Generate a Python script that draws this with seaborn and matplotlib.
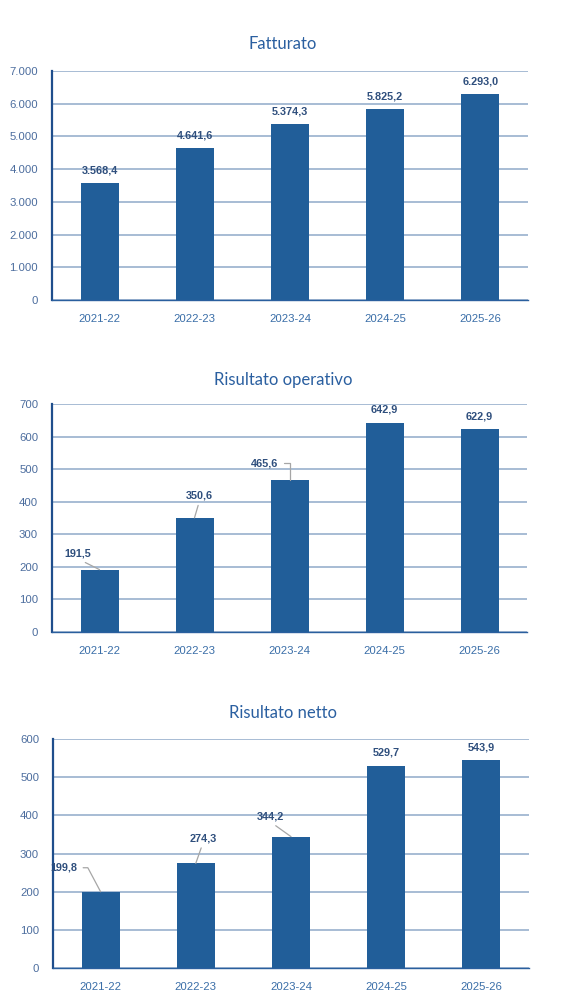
import numpy as np
import matplotlib
matplotlib.use("Agg")
import matplotlib.pyplot as plt
import seaborn as sns
from matplotlib.ticker import FuncFormatter, MultipleLocator

# Data
years = ["2021-22", "2022-23", "2023-24", "2024-25", "2025-26"]
fatturato = [3568.4, 4641.6, 5374.3, 5825.2, 6293.0]
risultato_operativo = [191.5, 350.6, 465.6, 642.9, 622.9]
risultato_netto = [199.8, 274.3, 344.2, 529.7, 543.9]

titles = ["Fatturato", "Risultato operativo", "Risultato netto"]
series = [fatturato, risultato_operativo, risultato_netto]
y_max = [7000, 700, 600]
y_step = [1000, 100, 100]

# label offsets in pixels (dx, dy, style) - None means straight above the bar
PX = 0.72
label_offsets = [
    [None, None, None, None, None],
    [(-22, 16, "line"), (5, 22, "line"), (-25, 17, "elbow"), None, None],
    [(-37, 24, "bent"), (7, 25, "line"), (-21, 20, "line"), None, None],
]

# axes boxes in pixels: left, right, top, bottom
boxes = [(52, 528, 71, 300), (52, 527, 404, 632), (53, 529, 739, 968)]
title_y = [44, 380, 713]

W, H = 579, 1006
BAR = "#215E99"
GRID = "#8FA9C9"
YTICK = "#4C6D9E"
XTICK = "#3A6EA8"
LABEL = "#2F4F7D"
TITLE = "#2A5FA0"

sns.set_theme(style="white")
plt.rcParams["font.family"] = ["Liberation Sans", "DejaVu Sans"]


def it_fmt(v, dec):
    s = f"{v:,.{dec}f}"
    return s.replace(",", "X").replace(".", ",").replace("X", ".")


fig = plt.figure(figsize=(W / 100, H / 100), dpi=100)

for k in range(3):
    l, r, t, b = boxes[k]
    ax = fig.add_axes([l / W, 1 - b / H, (r - l) / W, (b - t) / H])
    vals = series[k]
    sns.barplot(x=years, y=vals, color=BAR, width=0.4, saturation=1, linewidth=0, ax=ax)
    ax.set_xlim(-0.5, 4.5)
    ax.set_ylim(0, y_max[k])
    ax.yaxis.set_major_locator(MultipleLocator(y_step[k]))
    ax.yaxis.set_major_formatter(FuncFormatter(lambda v, p: it_fmt(v, 0)))
    ax.yaxis.grid(True, color=GRID, lw=1.1)
    ax.xaxis.grid(False)
    ax.set_axisbelow(True)
    for s in ["top", "right"]:
        ax.spines[s].set_visible(False)
    ax.spines["left"].set_color("#1F4E8C")
    ax.spines["left"].set_linewidth(1.6)
    ax.spines["bottom"].set_color("#2A5F9E")
    ax.spines["bottom"].set_linewidth(1.0)
    ax.set_xticks(np.arange(-0.5, 5, 1), minor=True)
    ax.tick_params(axis="x", which="major", length=0, pad=10, labelsize=8.2, labelcolor=XTICK)
    ax.tick_params(axis="x", which="minor", length=4, width=1, color="#2A5F9E", direction="out")
    ax.tick_params(axis="y", length=0, pad=10, labelsize=8.2, labelcolor=YTICK)
    ax.set_xlabel("")
    ax.set_ylabel("")

    for i, v in enumerate(vals):
        txt = it_fmt(v, 1)
        off = label_offsets[k][i]
        if off is None:
            ax.annotate(txt, xy=(i, v), xytext=(0, 13 * PX), textcoords="offset points",
                        ha="center", va="center", fontsize=7.8, fontweight="bold", color=LABEL)
            continue
        dx, dy, style = off
        if style == "line":
            props = dict(arrowstyle="-", color="#A6A6A6", lw=0.9, shrinkA=1, shrinkB=0,
                         relpos=(0.5, 0))
        elif style == "elbow":
            props = dict(arrowstyle="-", color="#A6A6A6", lw=0.9, shrinkA=2, shrinkB=0,
                         connectionstyle="angle,angleA=0,angleB=90,rad=0")
        else:
            props = dict(arrowstyle="-", color="#A6A6A6", lw=0.9, shrinkA=2, shrinkB=0,
                         connectionstyle="angle,angleA=0,angleB=118,rad=0")
        ax.annotate(txt, xy=(i, v), xytext=(dx * PX, dy * PX), textcoords="offset points",
                    ha="center", va="center", fontsize=7.8, fontweight="bold", color=LABEL,
                    arrowprops=props)

    fig.text(283 / W, 1 - title_y[k] / H, titles[k], ha="center", va="center",
             fontsize=12, color=TITLE, family=["Lato", "DejaVu Sans"])

fig.savefig("out.png", dpi=100, facecolor="white")
